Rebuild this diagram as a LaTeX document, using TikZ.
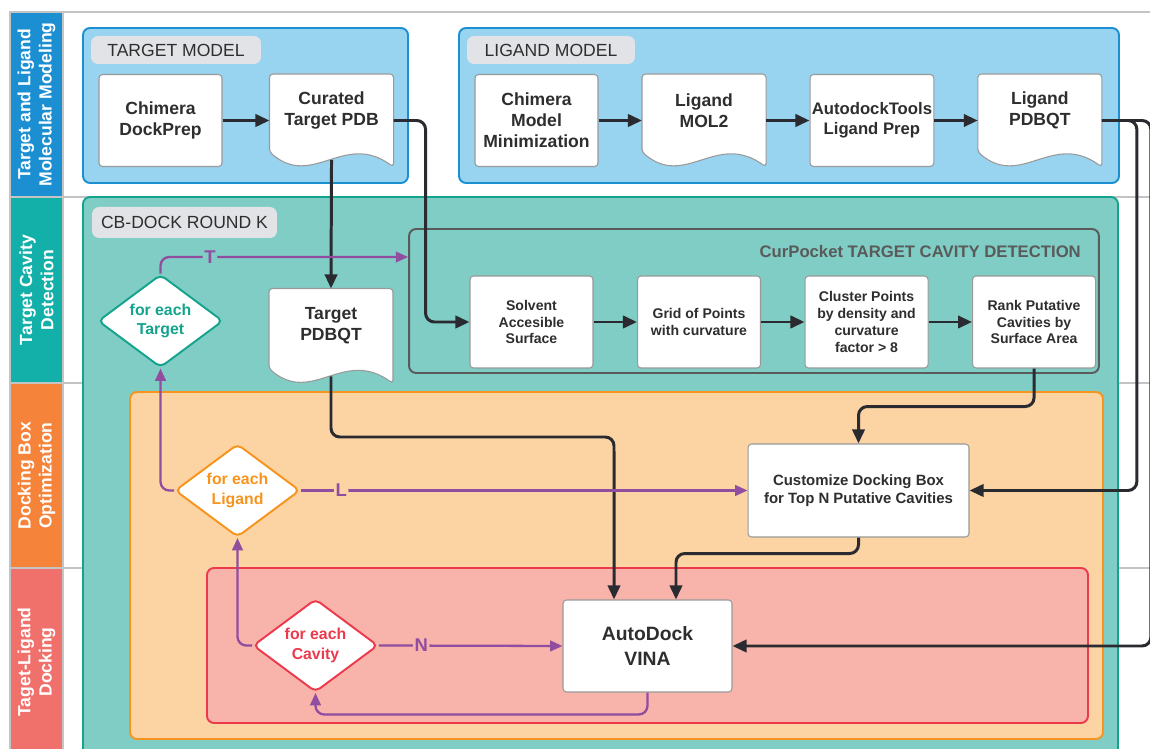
\documentclass[tikz,border=0pt]{standalone}
\usepackage{fontspec}
\setmainfont{Liberation Sans}
\usepackage{xcolor}
\definecolor{cLaneBlue}{HTML}{1B8FD2}
\definecolor{cLaneTeal}{HTML}{12B0A8}
\definecolor{cLaneOrange}{HTML}{F5843A}
\definecolor{cLaneRed}{HTML}{F0706B}
\definecolor{cFillBlue}{HTML}{98D4F0}
\definecolor{cFillTeal}{HTML}{7FCDC5}
\definecolor{cEdgeTeal}{HTML}{14A38C}
\definecolor{cFillOrange}{HTML}{FCD3A3}
\definecolor{cEdgeOrange}{HTML}{F7941D}
\definecolor{cFillRed}{HTML}{F8B3AA}
\definecolor{cEdgeRed}{HTML}{EC3A4C}
\definecolor{cLoop}{HTML}{914D9F}
\definecolor{cLine}{HTML}{2A2B30}
\definecolor{cText}{HTML}{2E2E2E}
\definecolor{cTab}{HTML}{E1E3E6}
\definecolor{cGrid}{HTML}{C4C4C4}
\definecolor{cFrame}{HTML}{5A5A5A}
\usepackage{tikz}
\usetikzlibrary{positioning,arrows.meta,shapes.geometric,calc,backgrounds}
\tikzset{
  lane-label/.style={draw=cGrid,line width=1pt,rotate=90,minimum height=1.06cm,
    text=white,align=center,font=\fontsize{10}{12}\selectfont\bfseries},
  panel/.style={line width=1.1pt,rounded corners=4pt},
  tab/.style={fill=cTab,rounded corners=4pt,text=cText,
    minimum height=0.56cm,font=\fontsize{10}{12}\selectfont},
  node-box/.style={draw=gray!80,line width=0.6pt,fill=white,rounded corners=2pt,
    minimum width=2.46cm,minimum height=1.84cm,inner sep=1pt,align=center,
    text=cText,font=\fontsize{10}{12}\selectfont\bfseries},
  node-small/.style={node-box,font=\fontsize{8}{9.5}\selectfont\bfseries},
  node-doc/.style={node-box,draw=none,fill=none},
  doc-text/.style={align=center,text=cText,yshift=0.2cm,
    font=\fontsize{10}{12}\selectfont\bfseries},
  doc-line/.style={draw=gray!80,line width=0.6pt,fill=white,rounded corners=2pt},
  node-loop/.style={diamond,aspect=1.36,inner sep=0pt,minimum width=2.5cm,
    minimum height=1.86cm,fill=white,line width=1.1pt,rounded corners=3pt,
    align=center,font=\fontsize{9}{11}\selectfont\bfseries},
  arrow/.style={-{Triangle[length=8pt,width=7pt]},line width=1.7pt,draw=cLine,
    rounded corners=5pt},
  arrow-loop/.style={-{Triangle[length=7pt,width=6pt]},line width=1.3pt,
    draw=cLoop,rounded corners=5pt},
  loop-tag/.style={text=cLoop,inner sep=1pt,font=\fontsize{10.5}{12}\selectfont\bfseries},
}

\begin{document}
\begin{tikzpicture}[x=0.02cm,y=-0.02cm]
  \useasboundingbox (0,0) rectangle (1150,749);

  % swimlanes and panels
  \begin{scope}[on background layer]
    \fill[white] (0,0) rectangle (1150,749);
    \foreach \yy in {12,197,383,568}
      \draw[cGrid,line width=1pt] (10,\yy) -- (1150,\yy);
    \node[lane-label,fill=cLaneBlue,minimum width=3.7cm] (lane-model) at (36.5,104.5)
      {Target and Ligand\\Molecular Modeling};
    \node[lane-label,fill=cLaneTeal,minimum width=3.72cm] (lane-cavity) at (36.5,290)
      {Target Cavity\\Detection};
    \node[lane-label,fill=cLaneOrange,minimum width=3.7cm] (lane-box) at (36.5,475.5)
      {Docking Box\\Optimization};
    \node[lane-label,fill=cLaneRed,minimum width=3.76cm] (lane-dock) at (36.5,662)
      {Taget-Ligand\\Docking};
    \draw[panel,draw=cLaneBlue,fill=cFillBlue] (83,28) rectangle (408,183);
    \draw[panel,draw=cLaneBlue,fill=cFillBlue] (459,28) rectangle (1119,183);
    \draw[panel,draw=cEdgeTeal,fill=cFillTeal] (83,197) rectangle (1118,770);
    \draw[panel,draw=cEdgeOrange,fill=cFillOrange] (130,392) rectangle (1103,739);
    \draw[panel,draw=cEdgeRed,fill=cFillRed] (207,568) rectangle (1088,723);
  \end{scope}

  \node[tab,minimum width=3.4cm] (tab-target) at (176,50) {TARGET MODEL};
  \node[tab,minimum width=3.36cm] (tab-ligand) at (551,50) {LIGAND MODEL};
  \node[tab,minimum width=3.7cm,minimum height=0.62cm] (tab-round) at (184.5,222.5)
    {CB-DOCK ROUND K};

  % target and ligand preparation
  \node[node-box] (dockprep) at (160.5,120.5) {Chimera\\DockPrep};
  \node[node-doc,right=0.94cm of dockprep,
    label={[doc-text]center:{Curated\\Target PDB}}] (curated) {};
  \node[node-box] (minimize) at (536.5,120.5) {Chimera\\Model\\Minimization};
  \node[node-doc,right=0.87cm of minimize,
    label={[doc-text]center:{Ligand\\MOL2}}] (mol2) {};
  \node[node-box,right=0.87cm of mol2,font=\fontsize{9.5}{11.5}\selectfont\bfseries]
    (adt) {AutodockTools\\Ligand Prep};
  \node[node-doc,right=0.87cm of adt,
    label={[doc-text]center:{Ligand\\PDBQT}}] (lpdbqt) {};
  \node[node-doc,minimum height=1.88cm,
    label={[doc-text]center:{Target\\PDBQT}}] (tpdbqt) at (331,336) {};

  % CurPocket
  \node[draw=cFrame,line width=1.1pt,rounded corners=4pt,minimum width=13.8cm,
    minimum height=2.88cm] (pocket) at (754,301) {};
  \node[anchor=east,text=cFrame,font=\fontsize{9.5}{11}\selectfont\bfseries]
    (pocket-title) at (1087,252) {CurPocket TARGET CAVITY DETECTION};
  \node[node-small] (solvent) at (531.5,322) {Solvent\\Accesible\\Surface};
  \node[node-small,right=0.87cm of solvent] (grid) {Grid of Points\\with curvature};
  \node[node-small,right=0.87cm of grid] (cluster)
    {Cluster Points\\by density and\\curvature\\factor > 8};
  \node[node-small,right=0.87cm of cluster] (rank)
    {Rank Putative\\Cavities by\\Surface Area};

  % docking
  \node[node-box,minimum width=4.42cm,minimum height=1.86cm,
    font=\fontsize{8.5}{10.5}\selectfont\bfseries] (custom) at (858.5,490.5)
    {Customize Docking Box\\for Top N Putative Cavities};
  \node[node-box,minimum width=3.38cm,minimum height=1.84cm,
    font=\fontsize{11}{14}\selectfont\bfseries] (vina) at (647.5,646) {AutoDock\\VINA};

  \node[node-loop,draw=cEdgeTeal,text=cEdgeTeal] (each-target) at (160.5,321)
    {for each\\Target};
  \node[node-loop,draw=cEdgeOrange,text=cEdgeOrange] (each-ligand) at (237.5,490.5)
    {for each\\Ligand};
  \node[node-loop,draw=cEdgeRed,text=cEdgeRed] (each-cavity) at (315.5,645.5)
    {for each\\Cavity};

  % document outlines
  \begin{scope}[on background layer]
    \foreach \d in {curated,mol2,lpdbqt,tpdbqt}
      \draw[doc-line] ([yshift=0.3cm]\d.south west) -- (\d.north west)
        -- (\d.north east) -- (\d.south east)
        .. controls ($(\d.south east)!0.4!(\d.south west)+(0,0.72cm)$)
        and ($(\d.south west)!0.35!(\d.south east)+(0,-0.44cm)$)
        .. ([yshift=0.3cm]\d.south west) -- cycle;
  \end{scope}

  % data flow
  \draw[arrow] (dockprep) -- (curated);
  \draw[arrow] (minimize) -- (mol2);
  \draw[arrow] (mol2) -- (adt);
  \draw[arrow] (adt) -- (lpdbqt);
  \draw[arrow] ([yshift=4pt]curated.south) -- (tpdbqt.north);
  \draw[arrow] (curated.east) -- ++(32,0) |- (solvent.west);
  \draw[arrow] (solvent) -- (grid);
  \draw[arrow] (grid) -- (cluster);
  \draw[arrow] (cluster) -- (rank);
  \draw[arrow] (rank.south) -- ++(0,38) -| (custom.north);
  \draw[arrow] ([yshift=4pt]tpdbqt.south) |- (614,437) -- ([xshift=-0.67cm]vina.north);
  \draw[arrow] (custom.south) -- ++(0,16) -| ([xshift=0.57cm]vina.north);
  \draw[arrow] (lpdbqt.east) -- ++(35,0) |- (custom.east);
  \draw[arrow] (lpdbqt.east) -- ++(49,0) |- (vina.east);

  % loops
  \coordinate (pocket-in) at (pocket.west |- 0,257);
  \draw[arrow-loop] (each-target.north) |- node[loop-tag,fill=cFillTeal,pos=0.6] {T}
    (pocket-in);
  \draw[arrow-loop] (each-ligand.west) -| (each-target.south);
  \draw[arrow-loop] (each-ligand.east) -- node[loop-tag,fill=cFillOrange,pos=0.09] {L}
    (custom.west);
  \draw[arrow-loop] (each-cavity.west) -| (each-ligand.south);
  \draw[arrow-loop] (each-cavity.east) -- node[loop-tag,fill=cFillRed,pos=0.23] {N}
    (vina.west);
  \draw[arrow-loop] (vina.south) -- ++(0,22) -| (each-cavity.south);
\end{tikzpicture}
\end{document}
